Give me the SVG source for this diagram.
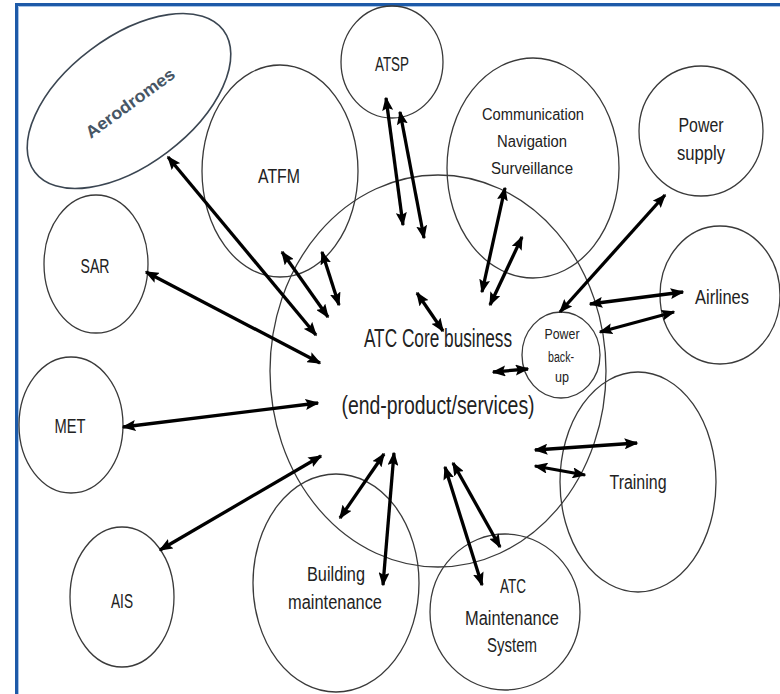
<svg xmlns="http://www.w3.org/2000/svg" width="780" height="694" viewBox="0 0 780 694">
  <style>
    .node { fill: none; stroke: #3a3a3a; stroke-width: 1.3; }
    .lbl { font-family: "Liberation Sans", Arial, sans-serif; fill: #222; text-anchor: middle; }
    .big { font-size: 20px; }
    .mid { font-size: 16px; }
    .sml { font-size: 14px; }
    .core { font-size: 25px; }
    .link { stroke: #000; stroke-width: 3.3; fill: none; marker-start: url(#head); marker-end: url(#head); }
  </style>
  <defs>
    <marker id="head" viewBox="0 0 14 11" refX="12.5" refY="5.5" markerWidth="14" markerHeight="11" markerUnits="userSpaceOnUse" orient="auto-start-reverse">
      <path d="M0,0 L14,5.5 L0,11 L2.5,5.5 z" fill="#000"/>
    </marker>
  </defs>

  <rect width="780" height="694" fill="#fff"/>

  <!-- frame -->
  <path d="M16.5,694 V4.5 H780" fill="none" stroke="#1d5aa8" stroke-width="3"/>
  <path d="M18.5,694 V6.5 H780" fill="none" stroke="#8fb4e0" stroke-width="0.8"/>

  <!-- central business -->
  <g id="core">
    <ellipse class="node" cx="438" cy="371" rx="168" ry="196" stroke-width="1.1"/>
  </g>

  <g id="aerodromes">
    <ellipse cx="129" cy="101" rx="118" ry="64" transform="rotate(-37 129 101)" fill="none" stroke="#3b4652" stroke-width="1.6"/>
    <text transform="translate(130 103) rotate(-36)" x="0" y="6" class="lbl" font-size="17" font-weight="bold" style="fill:#475665" textLength="106" lengthAdjust="spacingAndGlyphs">Aerodromes</text>
  </g>

  <g id="atfm">
    <ellipse class="node" cx="280" cy="171" rx="78" ry="106"/>
    <text class="lbl big" x="279" y="183" textLength="42" lengthAdjust="spacingAndGlyphs">ATFM</text>
  </g>

  <g id="atsp">
    <ellipse class="node" cx="392" cy="62" rx="51" ry="56"/>
    <text class="lbl big" x="392" y="71" textLength="34" lengthAdjust="spacingAndGlyphs">ATSP</text>
  </g>

  <g id="cns">
    <ellipse class="node" cx="533" cy="168" rx="86" ry="110"/>
    <text class="lbl mid" x="533" y="120" textLength="102" lengthAdjust="spacingAndGlyphs">Communication</text>
    <text class="lbl mid" x="532" y="147" textLength="70" lengthAdjust="spacingAndGlyphs">Navigation</text>
    <text class="lbl mid" x="532" y="174" textLength="82" lengthAdjust="spacingAndGlyphs">Surveillance</text>
  </g>

  <g id="power-supply">
    <ellipse class="node" cx="701" cy="131" rx="62" ry="65"/>
    <text class="lbl big" x="701" y="132" textLength="45" lengthAdjust="spacingAndGlyphs">Power</text>
    <text class="lbl big" x="701" y="160" textLength="48" lengthAdjust="spacingAndGlyphs">supply</text>
  </g>

  <g id="airlines">
    <ellipse class="node" cx="720" cy="295" rx="60" ry="69"/>
    <text class="lbl big" x="722" y="304" textLength="54" lengthAdjust="spacingAndGlyphs">Airlines</text>
  </g>

  <g id="power-backup">
    <ellipse class="node" cx="561" cy="355" rx="39" ry="43"/>
    <text class="lbl sml" x="562" y="339" textLength="35" lengthAdjust="spacingAndGlyphs">Power</text>
    <text class="lbl sml" x="561" y="362" textLength="26" lengthAdjust="spacingAndGlyphs">back-</text>
    <text class="lbl sml" x="562" y="382" textLength="14" lengthAdjust="spacingAndGlyphs">up</text>
  </g>

  <g id="training">
    <ellipse class="node" cx="638" cy="482" rx="78" ry="110"/>
    <text class="lbl big" x="638" y="489" textLength="57" lengthAdjust="spacingAndGlyphs">Training</text>
  </g>

  <g id="atc-maintenance">
    <ellipse class="node" cx="505" cy="612" rx="75" ry="78"/>
    <text class="lbl big" x="513" y="593" textLength="26" lengthAdjust="spacingAndGlyphs">ATC</text>
    <text class="lbl big" x="512" y="625" textLength="94" lengthAdjust="spacingAndGlyphs">Maintenance</text>
    <text class="lbl big" x="512" y="652" textLength="50" lengthAdjust="spacingAndGlyphs">System</text>
  </g>

  <g id="building">
    <ellipse class="node" cx="336" cy="583" rx="83" ry="109"/>
    <text class="lbl big" x="336" y="581" textLength="58" lengthAdjust="spacingAndGlyphs">Building</text>
    <text class="lbl big" x="335" y="609" textLength="94" lengthAdjust="spacingAndGlyphs">maintenance</text>
  </g>

  <g id="sar">
    <ellipse class="node" cx="96" cy="264" rx="52" ry="69"/>
    <text class="lbl big" x="95" y="273" textLength="29" lengthAdjust="spacingAndGlyphs">SAR</text>
  </g>

  <g id="met">
    <ellipse class="node" cx="71" cy="425" rx="52" ry="68"/>
    <text class="lbl big" x="70" y="433" textLength="31" lengthAdjust="spacingAndGlyphs">MET</text>
  </g>

  <g id="ais">
    <ellipse class="node" cx="122" cy="597" rx="52" ry="70"/>
    <text class="lbl big" x="122" y="608" textLength="22" lengthAdjust="spacingAndGlyphs">AIS</text>
  </g>

  <!-- connectors -->
  <g id="connectors">
    <line class="link" x1="168" y1="157" x2="316" y2="335"/>
    <line class="link" x1="146" y1="272" x2="320" y2="363"/>
    <line class="link" x1="123" y1="427" x2="318" y2="403"/>
    <line class="link" x1="160" y1="550" x2="321" y2="456"/>
    <line class="link" x1="340" y1="518" x2="384" y2="454"/>
    <line class="link" x1="394" y1="453" x2="383" y2="585"/>
    <line class="link" x1="445" y1="467" x2="482" y2="585"/>
    <line class="link" x1="453" y1="463" x2="500" y2="547"/>
    <line class="link" x1="535" y1="450" x2="637" y2="443"/>
    <line class="link" x1="535" y1="466" x2="585" y2="475"/>
    <line class="link" x1="493" y1="372" x2="528" y2="369"/>
    <line class="link" x1="590" y1="304" x2="683" y2="292"/>
    <line class="link" x1="600" y1="332" x2="674" y2="312"/>
    <line class="link" x1="665" y1="195" x2="560" y2="312"/>
    <line class="link" x1="505" y1="188" x2="482" y2="292"/>
    <line class="link" x1="522" y1="237" x2="490" y2="305"/>
    <line class="link" x1="386" y1="98" x2="403" y2="225"/>
    <line class="link" x1="400" y1="112" x2="424" y2="238"/>
    <line class="link" x1="282" y1="252" x2="328" y2="317"/>
    <line class="link" x1="322" y1="252" x2="339" y2="305"/>
    <line class="link" x1="417" y1="293" x2="443" y2="331"/>
  </g>

  <!-- core caption, narrowed horizontally -->
  <g id="core-caption">
    <text class="lbl core" transform="translate(438 347) scale(0.69 1)">ATC Core business</text>
    <text class="lbl core" transform="translate(438 414) scale(0.777 1)">(end-product/services)</text>
  </g>
</svg>
